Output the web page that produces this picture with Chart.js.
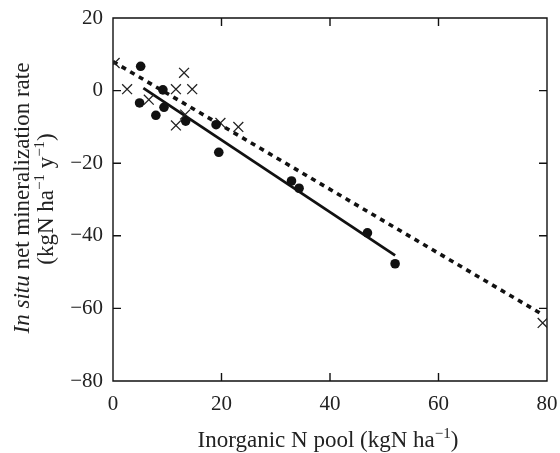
<!DOCTYPE html>
<html>
<head>
<meta charset="utf-8">
<script src="https://cdn.jsdelivr.net/npm/chart.js@4/dist/chart.umd.min.js"></script>
<style>
  html, body { margin: 0; padding: 0; background: #fff; }
  #wrap { width: 560px; height: 453px; }
</style>
</head>
<body>
<div id="wrap"><canvas id="myChart" width="560" height="453"></canvas></div>
<script>
// data
var circleX = [5.1, 4.9, 7.9, 9.2, 9.4, 13.4, 19.0, 19.5, 32.9, 34.3, 46.9, 52.0];
var circleY = [6.7, -3.4, -6.8, 0.2, -4.6, -8.4, -9.4, -17.0, -24.9, -26.9, -39.2, -47.7];
var crossX = [0.3, 2.6, 6.6, 11.6, 13.1, 14.6, 11.6, 13.3, 19.8, 23.1, 79.2];
var crossY = [7.6, 0.4, -2.5, 0.4, 4.9, 0.4, -9.6, -6.6, -8.9, -10.0, -64.0];
var solidX = [5.6, 52.0];
var solidY = [0.7, -45.4];
var dashX = [0, 79.2];
var dashY = [8.0, -61.7];
var xTicks = [0, 20, 40, 60, 80];
var yTicks = [-80, -60, -40, -20, 0, 20];

var serif = '"Liberation Serif", "DejaVu Serif", serif';

function pts(xs, ys) {
    var out = [];
    for (var i = 0; i < xs.length; i++) {
        out.push({ x: xs[i], y: ys[i] });
    }
    return out;
}

function drawParts(g, parts, cx, cy) {
    var w = 0;
    parts.forEach(function (p) { g.font = p.f; w += g.measureText(p.t).width; });
    var x = cx - w / 2;
    g.textAlign = 'left';
    parts.forEach(function (p) {
        g.font = p.f;
        g.fillText(p.t, x, cy + p.dy);
        x += g.measureText(p.t).width;
    });
}

// box + inward ticks on all four sides, axis titles
var frame = {
    id: 'frame',
    beforeDatasetsDraw: function (chart) {
        var g = chart.ctx;
        var a = chart.chartArea;
        var sx = chart.scales.x, sy = chart.scales.y;
        g.save();
        g.setLineDash([]);
        g.strokeStyle = '#111111';
        g.lineWidth = 1.4;
        g.beginPath();
        g.rect(a.left, a.top, a.right - a.left, a.bottom - a.top);
        xTicks.forEach(function (v) {
            var p = sx.getPixelForValue(v);
            g.moveTo(p, a.bottom); g.lineTo(p, a.bottom - 8);
            g.moveTo(p, a.top); g.lineTo(p, a.top + 8);
        });
        yTicks.forEach(function (v) {
            var p = sy.getPixelForValue(v);
            g.moveTo(a.left, p); g.lineTo(a.left + 8, p);
            g.moveTo(a.right, p); g.lineTo(a.right - 8, p);
        });
        g.stroke();
        g.restore();
    },
    afterDraw: function (chart) {
        var g = chart.ctx;
        var a = chart.chartArea;
        g.save();
        g.fillStyle = '#222';
        g.textBaseline = 'middle';
        var big = '23px ' + serif, small = '15px ' + serif;

        // x title
        drawParts(g, [
            { t: 'Inorganic N pool (kgN ha', f: big, dy: 0 },
            { t: '\u22121', f: small, dy: -7 },
            { t: ')', f: big, dy: 0 }
        ], 328, 441);

        // y title, two rotated lines
        g.save();
        g.translate(23, 198);
        g.rotate(-Math.PI / 2);
        drawParts(g, [
            { t: 'In situ', f: 'italic ' + big, dy: 0 },
            { t: ' net mineralization rate', f: big, dy: 0 }
        ], 0, 0);
        g.restore();

        g.save();
        g.translate(47, 199);
        g.rotate(-Math.PI / 2);
        drawParts(g, [
            { t: '(kgN ha', f: big, dy: 0 },
            { t: '\u22121', f: small, dy: -7 },
            { t: ' y', f: big, dy: 0 },
            { t: '\u22121', f: small, dy: -7 },
            { t: ')', f: big, dy: 0 }
        ], 0, 0);
        g.restore();

        g.restore();
    }
};

var ctx = document.getElementById('myChart');

var grafico = new Chart(ctx, {
    type: 'scatter',
    data: {
        datasets: [
            {
                label: 'circles',
                data: pts(circleX, circleY),
                pointStyle: 'circle',
                pointRadius: 4.8,
                backgroundColor: '#111',
                borderColor: '#111',
                borderWidth: 0
            },
            {
                label: 'crosses',
                data: pts(crossX, crossY),
                pointStyle: 'crossRot',
                pointRadius: 7,
                borderColor: '#222',
                borderWidth: 1.3
            },
            {
                label: 'fit solid',
                type: 'line',
                data: pts(solidX, solidY),
                borderColor: '#111',
                borderWidth: 2.8,
                pointRadius: 0,
                fill: false
            },
            {
                label: 'fit dashed',
                type: 'line',
                data: pts(dashX, dashY),
                borderColor: '#111',
                borderWidth: 3.6,
                borderDash: [5, 5],
                borderCapStyle: 'butt',
                pointRadius: 0,
                fill: false
            }
        ]
    },
    options: {
        responsive: false,
        animation: false,
        layout: { padding: { left: 0, right: 13, top: 18, bottom: 0 } },
        plugins: { legend: { display: false }, tooltip: { enabled: false } },
        scales: {
            x: {
                type: 'linear',
                min: 0, max: 80,
                afterBuildTicks: function (s) { s.ticks = xTicks.map(function (v) { return { value: v }; }); },
                afterFit: function (s) { s.height = 72; s.paddingLeft = 0; s.paddingRight = 0; },
                grid: { display: false, drawTicks: false },
                border: { display: false },
                ticks: {
                    padding: 11,
                    color: '#222',
                    font: { family: serif, size: 21 }
                }
            },
            y: {
                type: 'linear',
                min: -80, max: 20,
                afterBuildTicks: function (s) { s.ticks = yTicks.map(function (v) { return { value: v }; }); },
                afterFit: function (s) { s.width = 113; s.paddingTop = 0; s.paddingBottom = 0; },
                grid: { display: false, drawTicks: false },
                border: { display: false },
                ticks: {
                    padding: 10,
                    color: '#222',
                    font: { family: serif, size: 21 },
                    callback: function (v) { return v < 0 ? '\u2212' + Math.abs(v) : '' + v; }
                }
            }
        }
    },
    plugins: [frame]
});
</script>
</body>
</html>
